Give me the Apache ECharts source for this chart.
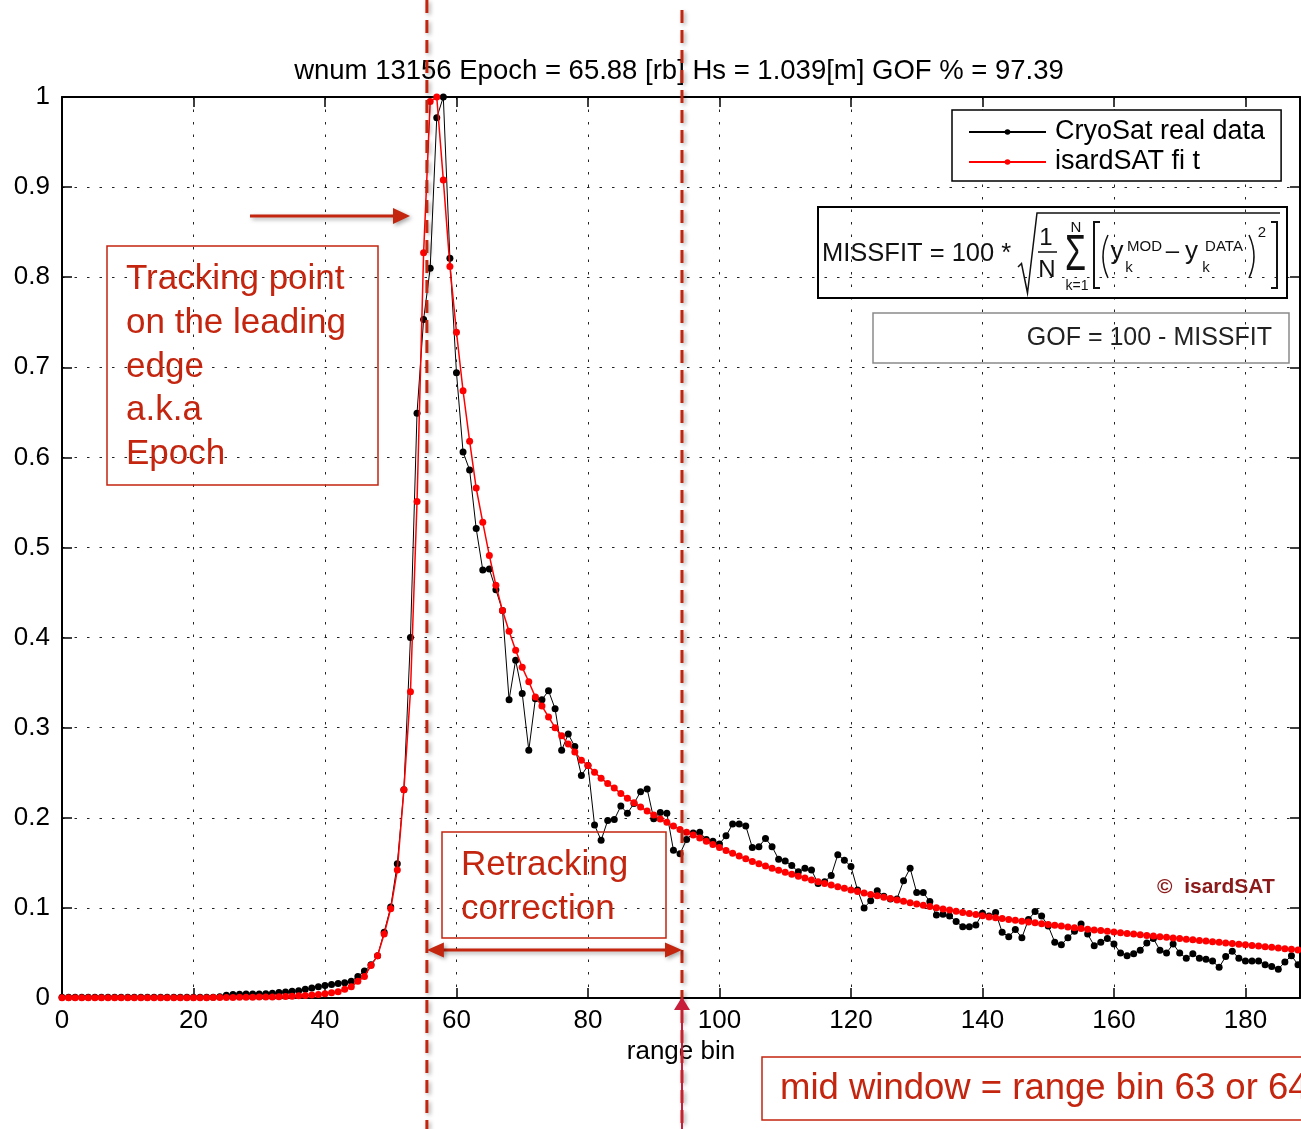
<!DOCTYPE html>
<html>
<head>
<meta charset="utf-8">
<title>CryoSat waveform retracking</title>
<script src="https://cdn.jsdelivr.net/npm/echarts@6.0.0/dist/echarts.min.js"></script>
<style>
  html, body { margin: 0; padding: 0; background: #ffffff; }
  #chart { width: 1301px; height: 1129px; }
</style>
</head>
<body>
<div id="chart"></div>
<script>
// Normalised waveform power, one value per range bin (array index = bin).
const cryoSatRealData = [
  0.0008, 0.0008, 0.0008, 0.0008, 0.0008, 0.0008, 0.0008, 0.0008, 0.0008, 0.0008,
  0.0008, 0.0008, 0.0008, 0.0008, 0.0008, 0.0008, 0.0008, 0.0008, 0.0008, 0.0008,
  0.0008, 0.0008, 0.0008, 0.0008, 0.0015, 0.003, 0.004, 0.0042, 0.0044, 0.0044,
  0.0045, 0.0048, 0.0052, 0.006, 0.0067, 0.0074, 0.008, 0.0097, 0.011, 0.0126,
  0.014, 0.015, 0.016, 0.017, 0.0185, 0.024, 0.030, 0.037, 0.047, 0.073,
  0.101, 0.149, 0.231, 0.400, 0.649, 0.753, 0.810, 0.977, 1.000, 0.821,
  0.694, 0.606, 0.586, 0.521, 0.475, 0.476, 0.453, 0.430, 0.331, 0.375,
  0.338, 0.275, 0.332, 0.331, 0.341, 0.321, 0.275, 0.293, 0.279, 0.247,
  0.258, 0.192, 0.175, 0.197, 0.198, 0.213, 0.205, 0.216, 0.229, 0.232,
  0.199, 0.206, 0.205, 0.164, 0.160, 0.176, 0.183, 0.184, 0.176, 0.174,
  0.171, 0.180, 0.193, 0.193, 0.191, 0.167, 0.168, 0.177, 0.168, 0.154,
  0.152, 0.147, 0.140, 0.144, 0.142, 0.127, 0.129, 0.136, 0.159, 0.153,
  0.146, 0.120, 0.100, 0.108, 0.119, 0.113, 0.110, 0.110, 0.130, 0.144,
  0.117, 0.117, 0.107, 0.092, 0.093, 0.091, 0.085, 0.079, 0.079, 0.081,
  0.094, 0.091, 0.095, 0.073, 0.068, 0.076, 0.067, 0.087, 0.096, 0.091,
  0.080, 0.062, 0.059, 0.067, 0.074, 0.082, 0.071, 0.058, 0.062, 0.066,
  0.060, 0.050, 0.047, 0.049, 0.053, 0.061, 0.066, 0.053, 0.050, 0.060,
  0.050, 0.044, 0.049, 0.044, 0.043, 0.041, 0.034, 0.046, 0.052, 0.044,
  0.041, 0.041, 0.041, 0.037, 0.035, 0.032, 0.040, 0.047, 0.037
];

const isardSatFit = [
  0.0003, 0.0003, 0.0003, 0.0003, 0.0003, 0.0003, 0.0003, 0.0003, 0.0003, 0.0003,
  0.0003, 0.0003, 0.0003, 0.0003, 0.0003, 0.0003, 0.0003, 0.0003, 0.0003, 0.0003,
  0.0004, 0.0004, 0.0004, 0.0005, 0.0005, 0.0005, 0.0006, 0.0007, 0.0008, 0.0009,
  0.001, 0.0011, 0.0012, 0.0014, 0.0017, 0.002, 0.0024, 0.0028, 0.0033, 0.004,
  0.0048, 0.0057, 0.007, 0.0096, 0.0126, 0.0185, 0.024, 0.036, 0.047, 0.071,
  0.099, 0.142, 0.231, 0.340, 0.551, 0.827, 0.995, 1.000, 0.908, 0.812,
  0.739, 0.674, 0.618, 0.566, 0.528, 0.491, 0.458, 0.430, 0.407, 0.386,
  0.367, 0.351, 0.334, 0.324, 0.312, 0.300, 0.291, 0.282, 0.273, 0.264,
  0.258, 0.2505, 0.244, 0.238, 0.233, 0.227, 0.2216, 0.2168, 0.212, 0.2075,
  0.203, 0.1987, 0.195, 0.191, 0.187, 0.184, 0.181, 0.1775, 0.174, 0.1705,
  0.167, 0.1638, 0.1606, 0.1575, 0.1545, 0.1516, 0.149, 0.1465, 0.144, 0.1418,
  0.1396, 0.1374, 0.1352, 0.1331, 0.131, 0.129, 0.1272, 0.1254, 0.1236, 0.1218,
  0.120, 0.1183, 0.1166, 0.115, 0.1134, 0.1118, 0.1103, 0.1088, 0.1073, 0.1058,
  0.1044, 0.103, 0.1016, 0.1002, 0.0989, 0.0976, 0.0963, 0.095, 0.0938, 0.0926,
  0.0914, 0.0900, 0.0890, 0.0881, 0.0871, 0.0862, 0.0852, 0.0843, 0.0834, 0.0825,
  0.0816, 0.0807, 0.0798, 0.0789, 0.0780, 0.0772, 0.0764, 0.0756, 0.0748, 0.0740,
  0.0732, 0.0724, 0.0716, 0.0709, 0.0702, 0.0695, 0.0688, 0.0681, 0.0674, 0.0667,
  0.0660, 0.0653, 0.0646, 0.0639, 0.0632, 0.0625, 0.0618, 0.0611, 0.0604, 0.0597,
  0.0590, 0.0583, 0.0576, 0.0569, 0.0562, 0.0555, 0.0548, 0.0541, 0.0534
];

const seriesNames = ['CryoSat real data', 'isardSAT fi t'];
const chartTitle = 'wnum 13156 Epoch = 65.88 [rb] Hs = 1.039[m] GOF % = 97.39';
const xAxisName = 'range bin';
const xTickStep = 20;
const yTickStep = 0.1;
const xAxisEnd = 188.3;

// Positions on the range-bin axis that the annotations point at
const epochBin = 55.5;
const windowMarkBin = 94.3;

const FONT = 'Liberation Sans';
const RED = '#c3250f';
const CRIMSON = '#c81d3b';
const INK = '#111111';

const toPairs = arr => arr.map((v, i) => [i, v]);

const chart = echarts.init(document.getElementById('chart'), null, { renderer: 'canvas' });

// Boxed frame: every axis sits on the grid edge, ticks point inwards
const gridLine = { show: true, lineStyle: { color: '#222', width: 1, type: [2.5, 10] } };
const frameLine = { show: true, onZero: false, lineStyle: { color: '#000', width: 2 } };
const innerTick = { show: true, inside: true, length: 10, lineStyle: { color: '#000', width: 1.5 } };
const tickFont = { fontFamily: FONT, fontSize: 26, color: '#000' };

const option = {
  animation: false,
  backgroundColor: '#ffffff',
  title: {
    text: chartTitle,
    left: 679,
    top: 57,
    padding: 0,
    textAlign: 'center',
    textStyle: { fontFamily: FONT, fontSize: 27.5, fontWeight: 'normal', color: '#000' }
  },
  legend: {
    data: seriesNames,
    orient: 'vertical',
    left: 952,
    top: 110,
    itemWidth: 77,
    itemHeight: 7,
    itemGap: 0,
    padding: [7, 16, 4, 16],
    borderColor: '#000',
    borderWidth: 1.5,
    backgroundColor: '#ffffff',
    selectedMode: false,
    textStyle: { fontFamily: FONT, fontSize: 27, color: '#000', lineHeight: 30, padding: [0, 0, 0, 4] }
  },
  grid: { left: 62, right: 1, top: 97, bottom: 131, outerBoundsMode: 'none', containLabel: false },
  xAxis: [
    {
      type: 'value', min: 0, max: xAxisEnd, interval: xTickStep, position: 'bottom',
      name: xAxisName, nameLocation: 'middle', nameGap: 40,
      nameTextStyle: { fontFamily: FONT, fontSize: 26, color: '#000' },
      axisLine: frameLine, axisTick: innerTick,
      axisLabel: Object.assign({ margin: 10, showMaxLabel: false }, tickFont),
      splitLine: gridLine
    },
    {
      type: 'value', min: 0, max: xAxisEnd, interval: xTickStep, position: 'top',
      axisLine: frameLine, axisTick: innerTick, axisLabel: { show: false }, splitLine: { show: false }
    }
  ],
  yAxis: [
    {
      type: 'value', min: 0, max: 1, interval: yTickStep, position: 'left',
      axisLine: frameLine, axisTick: innerTick,
      axisLabel: Object.assign({ margin: 12 }, tickFont),
      splitLine: gridLine
    },
    {
      type: 'value', min: 0, max: 1, interval: yTickStep, position: 'right',
      axisLine: frameLine, axisTick: innerTick, axisLabel: { show: false }, splitLine: { show: false }
    }
  ],
  series: [
    {
      name: seriesNames[0], type: 'line', xAxisIndex: 0, yAxisIndex: 0,
      data: toPairs(cryoSatRealData),
      symbol: 'circle', symbolSize: 7, showSymbol: true, showAllSymbol: true,
      lineStyle: { color: '#000', width: 1 },
      itemStyle: { color: '#000' },
      z: 3
    },
    {
      name: seriesNames[1], type: 'line', xAxisIndex: 0, yAxisIndex: 0,
      data: toPairs(isardSatFit),
      symbol: 'circle', symbolSize: 7, showSymbol: true, showAllSymbol: true,
      lineStyle: { color: '#ff0000', width: 1.5 },
      itemStyle: { color: '#ff0000' },
      z: 4
    }
  ]
};

chart.setOption(option);

// ---- annotation overlay -------------------------------------------------
const SHADOW = { shadowColor: 'rgba(0,0,0,0.35)', shadowBlur: 4, shadowOffsetX: 2, shadowOffsetY: 2 };

function text(x, y, str, size, extra) {
  const st = Object.assign({
    text: str, fontFamily: FONT, fill: INK,
    align: 'center', verticalAlign: 'middle',
    textAlign: 'center', textVerticalAlign: 'middle'
  }, extra || {}, { fontSize: size });
  return { type: 'text', x: x, y: y, z: 60, silent: true, style: st };
}
function line(x1, y1, x2, y2, style) {
  return { type: 'line', z: 60, silent: true, shape: { x1, y1, x2, y2 }, style: Object.assign({ stroke: INK, lineWidth: 1.5 }, style) };
}
function poly(points, fill, extra) {
  return { type: 'polygon', z: 61, silent: true, shape: { points }, style: Object.assign({ fill: fill, stroke: 'none' }, extra || {}) };
}
function polyline(points, style) {
  return { type: 'polyline', z: 60, silent: true, shape: { points }, style: Object.assign({ stroke: INK, lineWidth: 1.5, fill: 'none' }, style) };
}
function box(x, y, w, h, stroke, lw) {
  return { type: 'rect', z: 59, silent: true, shape: { x, y, width: w, height: h }, style: { fill: 'none', stroke: stroke, lineWidth: lw } };
}
function curve(x1, y1, cx, cy, x2, y2) {
  return { type: 'bezierCurve', z: 60, silent: true, shape: { x1, y1, x2, y2, cpx1: cx, cpy1: cy }, style: { stroke: INK, lineWidth: 1.5, fill: 'none' } };
}

const ex = chart.convertToPixel({ xAxisIndex: 0 }, epochBin);
const mx = chart.convertToPixel({ xAxisIndex: 0 }, windowMarkBin);
const dashed = Object.assign({ stroke: RED, lineWidth: 3, lineDash: [13, 7] }, SHADOW);
const redLeft = { fill: RED, align: 'left', textAlign: 'left', verticalAlign: 'top', textVerticalAlign: 'top', lineHeight: 44 };

const overlay = [
  // epoch and window marks
  line(ex, 0, ex, 1129, dashed),
  line(mx, 10, mx, 1129, dashed),
  line(mx, 1129, mx, 1008, { stroke: CRIMSON, lineWidth: 2 }),
  poly([[mx, 997], [mx - 8, 1010], [mx + 8, 1010]], CRIMSON),

  // retracking correction span
  line(ex + 14, 950, mx - 14, 950, Object.assign({ stroke: RED, lineWidth: 3 }, SHADOW)),
  poly([[ex, 950], [ex + 17, 942.5], [ex + 17, 957.5]], RED, SHADOW),
  poly([[mx, 950], [mx - 17, 942.5], [mx - 17, 957.5]], RED, SHADOW),

  // pointer towards the leading edge
  line(250, 216, 396, 216, Object.assign({ stroke: RED, lineWidth: 3 }, SHADOW)),
  poly([[410, 216], [393, 208], [393, 224]], RED, SHADOW),

  // text boxes
  box(107, 246, 271, 239, RED, 1.5),
  text(126, 258, 'Tracking point\non the leading\nedge\na.k.a\nEpoch', 35, Object.assign({}, redLeft, { lineHeight: 43.6 })),
  box(442, 832, 224, 106, RED, 1.5),
  text(461, 843, 'Retracking\ncorrection', 35, redLeft),
  box(762, 1057, 545, 63, RED, 1.5),
  text(780, 1068, 'mid window = range bin 63 or 64', 36.5, Object.assign({}, redLeft, { lineHeight: 42 })),

  // goodness-of-fit definition
  box(818, 207, 469, 91, '#000', 2),
  text(822, 254, 'MISSFIT = 100 *', 25.5, { align: 'left', textAlign: 'left' }),
  polyline([[1018, 267], [1021.5, 263.5], [1027.5, 293], [1037, 213], [1280, 213]]),
  text(1046, 238, '1', 24),
  line(1038, 252, 1057, 252),
  text(1047, 270, 'N', 24),
  Object.assign(text(1075.5, 256, 'Σ', 34), { scaleY: 1.45 }),
  text(1076, 228, 'N', 15),
  text(1077, 286, 'k=1', 14),
  polyline([[1100, 222], [1094, 222], [1094, 288], [1100, 288]], { lineWidth: 2 }),
  curve(1108, 235, 1098, 256.5, 1108, 278),
  text(1117, 252, 'y', 26),
  text(1144.5, 247, 'MOD', 15),
  text(1129, 268, 'k', 15),
  text(1172.5, 251, '–', 24),
  text(1191.5, 252, 'y', 26),
  text(1224, 247, 'DATA', 15),
  text(1206, 268, 'k', 15),
  curve(1249, 235, 1259, 256.5, 1249, 278),
  text(1262, 233, '2', 15),
  polyline([[1271, 222], [1277, 222], [1277, 288], [1271, 288]], { lineWidth: 2 }),

  box(873, 313, 416, 50, '#8a8a8a', 1.5),
  text(1272, 338, 'GOF = 100 - MISSFIT', 25, { align: 'right', textAlign: 'right', fill: '#222' }),

  // copyright
  text(1157, 887, '©  isardSAT', 21, { align: 'left', textAlign: 'left', fontWeight: 'bold', fill: '#8b1a1a' })
];

chart.setOption({ graphic: { elements: overlay } });
</script>
</body>
</html>
